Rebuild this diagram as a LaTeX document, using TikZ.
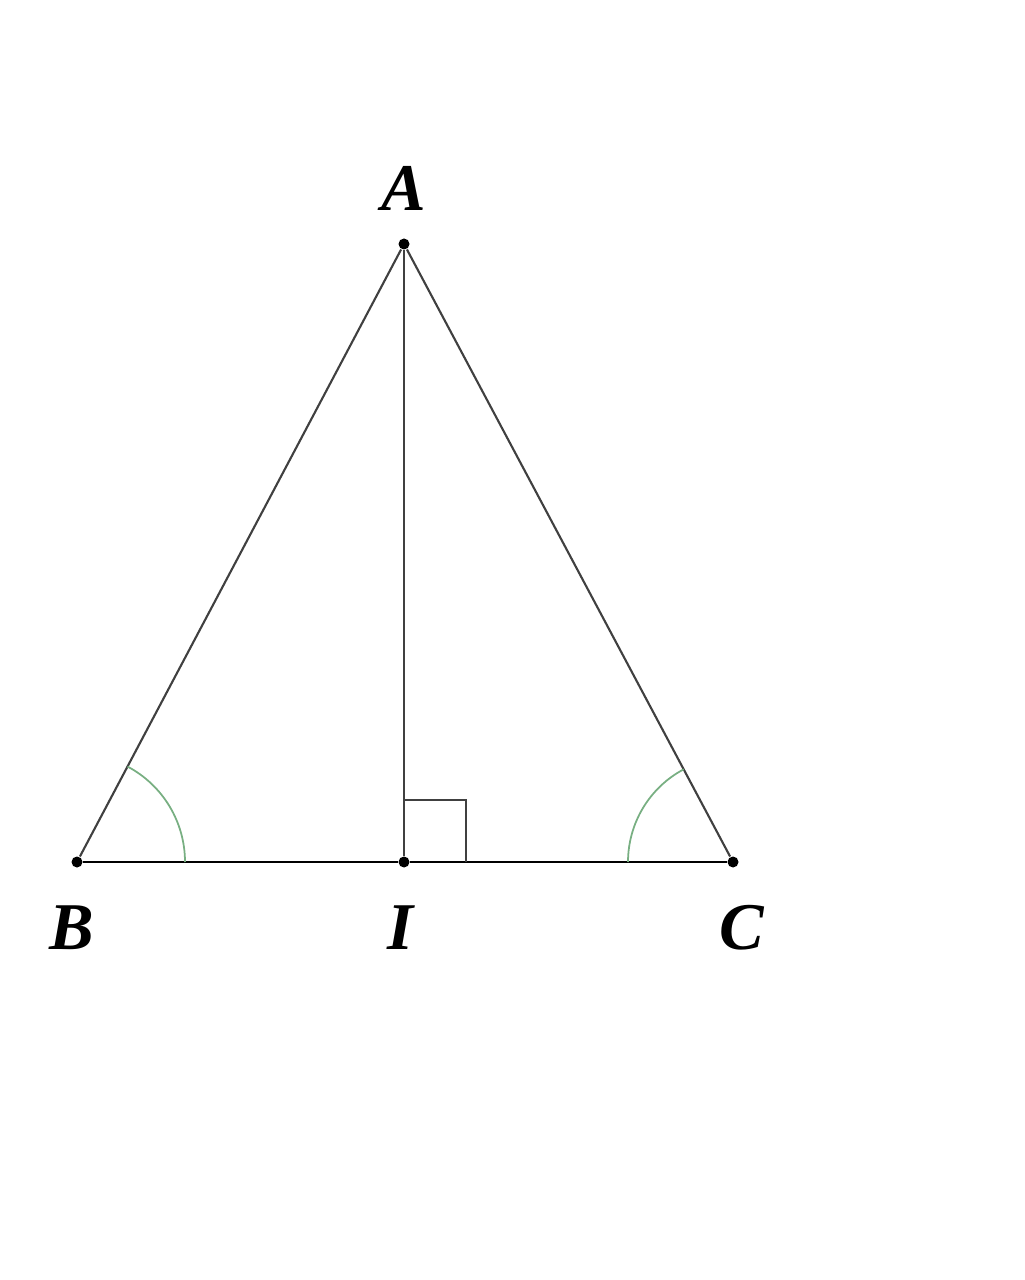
\documentclass[tikz,border=0pt]{standalone}
\usepackage{fontspec}
\setmainfont{Liberation Serif}
\definecolor{arcgreen}{RGB}{120,175,130}
\begin{document}
\begin{tikzpicture}[x=1cm,y=1cm]
\useasboundingbox (0,0) rectangle (10.24,-12.80);
\tikzset{pt/.style={circle, fill, inner sep=0pt, minimum size=0.11cm},
  lbl/.style={font=\fontsize{19}{22}\selectfont\bfseries\itshape},
  side/.style={line width=0.6pt, black!75},
  angmark/.style={line width=0.5pt, arcgreen}}
\node[pt] (A) at (4.04,-2.44){};
\node[pt] (B) at (0.77,-8.62){};
\node[pt] (I) at (4.04,-8.62){};
\node[pt] (C) at (7.33,-8.62){};
\node[lbl] (lA) at (4.04,-1.88){A};
\node[lbl] (lB) at (0.72,-9.28){B};
\node[lbl] (lI) at (4.00,-9.28){I};
\node[lbl] (lC) at (7.42,-9.28){C};
\draw[side](A) -- (B);
\draw[side](A) -- (C);
\draw[side](A) -- (I);
\draw[line width=0.85pt](B) -- (I);
\draw[line width=0.85pt](I) -- (C);
\draw[side] ([yshift=0.62cm]I.center) -- ++(0.62,0) -- ++(0,-0.62);
\draw[angmark] ([xshift=1.08cm]B.center) arc[start angle=0, end angle=62.1, radius=1.08];
\draw[angmark] ([xshift=-1.05cm]C.center) arc[start angle=180, end angle=118, radius=1.05];
\end{tikzpicture}
\end{document}
